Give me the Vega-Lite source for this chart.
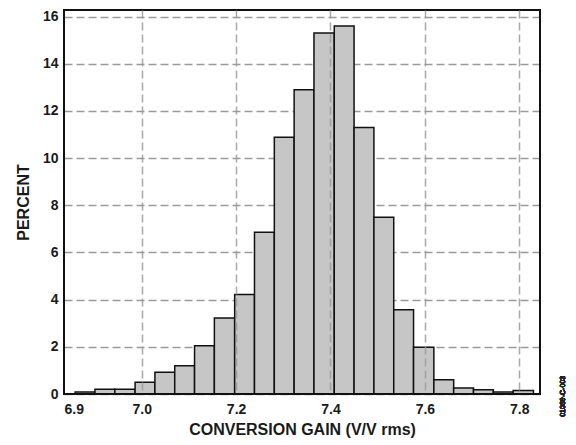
{
  "$schema": "https://vega.github.io/schema/vega-lite/v6.json",
  "autosize": "none",
  "width": 476,
  "height": 384,
  "padding": {"left": 64, "top": 10, "right": 36, "bottom": 51},
  "background": "white",
  "config": {
    "view": {"stroke": null},
    "font": "Liberation Sans",
    "axis": {
      "labelFont": "Liberation Sans",
      "labelFontWeight": "bold",
      "labelFontSize": 14,
      "labelColor": "#1a1a1a",
      "titleFont": "Liberation Sans",
      "titleFontWeight": "bold",
      "titleFontSize": 16,
      "titleColor": "#1a1a1a",
      "domain": false,
      "ticks": false,
      "gridColor": "#9a9a9a",
      "gridDash": [8, 4],
      "gridWidth": 1.5
    }
  },
  "data": {
    "values": [
      {"bin_start": 6.859, "bin_end": 6.901, "percent": 0.08},
      {"bin_start": 6.901, "bin_end": 6.943, "percent": 0.2},
      {"bin_start": 6.943, "bin_end": 6.986, "percent": 0.2},
      {"bin_start": 6.986, "bin_end": 7.028, "percent": 0.5},
      {"bin_start": 7.028, "bin_end": 7.070, "percent": 0.92},
      {"bin_start": 7.070, "bin_end": 7.112, "percent": 1.2},
      {"bin_start": 7.112, "bin_end": 7.154, "percent": 2.05},
      {"bin_start": 7.154, "bin_end": 7.197, "percent": 3.22},
      {"bin_start": 7.197, "bin_end": 7.239, "percent": 4.22},
      {"bin_start": 7.239, "bin_end": 7.281, "percent": 6.86},
      {"bin_start": 7.281, "bin_end": 7.323, "percent": 10.88},
      {"bin_start": 7.323, "bin_end": 7.365, "percent": 12.9},
      {"bin_start": 7.365, "bin_end": 7.408, "percent": 15.3},
      {"bin_start": 7.408, "bin_end": 7.450, "percent": 15.6},
      {"bin_start": 7.450, "bin_end": 7.492, "percent": 11.3},
      {"bin_start": 7.492, "bin_end": 7.534, "percent": 7.49},
      {"bin_start": 7.534, "bin_end": 7.576, "percent": 3.57},
      {"bin_start": 7.576, "bin_end": 7.619, "percent": 1.98},
      {"bin_start": 7.619, "bin_end": 7.661, "percent": 0.6},
      {"bin_start": 7.661, "bin_end": 7.703, "percent": 0.25},
      {"bin_start": 7.703, "bin_end": 7.745, "percent": 0.18},
      {"bin_start": 7.745, "bin_end": 7.787, "percent": 0.08},
      {"bin_start": 7.787, "bin_end": 7.830, "percent": 0.15}
    ]
  },
  "layer": [
    {
      "mark": {"type": "bar", "fill": "#c6c6c6", "stroke": "#111", "strokeWidth": 1.5},
      "encoding": {
        "x": {
          "field": "bin_start",
          "type": "quantitative",
          "scale": {"domain": [6.8354, 7.8439], "nice": false, "zero": false},
          "axis": {
            "values": [6.8354, 7.0, 7.2, 7.4, 7.6, 7.8],
            "labelExpr": "datum.value < 6.9 ? '6.9' : format(datum.value, '.1f')",
            "labelPadding": 8,
            "title": "CONVERSION GAIN (V/V rms)",
            "titlePadding": 5,
            "zindex": 1,
            "gridOpacity": {"condition": {"test": "datum.value < 6.9", "value": 0}, "value": 0.85}
          }
        },
        "x2": {"field": "bin_end"},
        "y": {
          "field": "percent",
          "type": "quantitative",
          "scale": {"domain": [0, 16.28], "nice": false},
          "axis": {
            "values": [0, 2, 4, 6, 8, 10, 12, 14, 16],
            "labelPadding": 6,
            "title": "PERCENT",
            "titlePadding": 11,
            "zindex": 0
          }
        },
        "y2": {"datum": 0}
      }
    },
    {
      "mark": {"type": "rect", "fill": null, "stroke": "#111", "strokeWidth": 2},
      "encoding": {
        "x": {"datum": 6.8354, "type": "quantitative"},
        "x2": {"datum": 7.8439},
        "y": {"datum": 0, "type": "quantitative"},
        "y2": {"datum": 16.28}
      }
    },
    {
      "mark": {"type": "text", "text": "01069-C-003", "angle": 270, "fontSize": 7, "font": "Liberation Sans", "color": "#222", "align": "center", "baseline": "middle"},
      "encoding": {
        "x": {"datum": 7.892, "type": "quantitative"},
        "y": {"datum": -0.1, "type": "quantitative"}
      }
    }
  ]
}
